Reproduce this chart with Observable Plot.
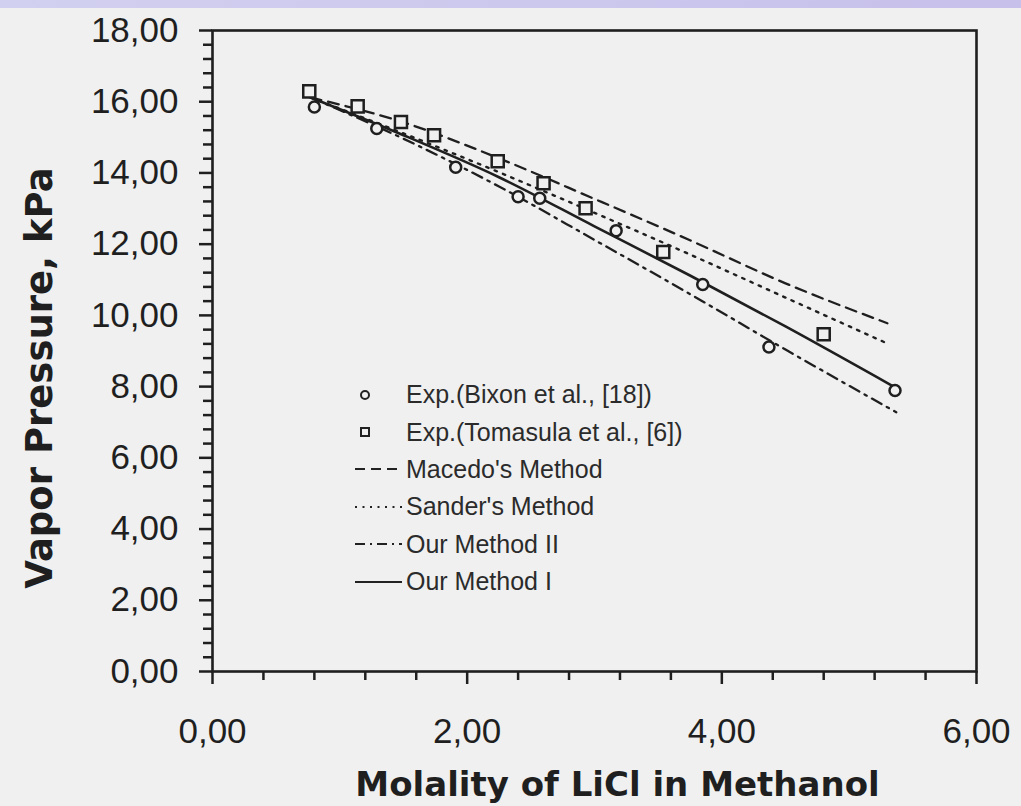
<!DOCTYPE html>
<html><head><meta charset="utf-8">
<script src="https://cdn.jsdelivr.net/npm/d3@7"></script>
<script src="https://cdn.jsdelivr.net/npm/@observablehq/plot@0.6"></script>
<style>
html,body{margin:0;padding:0;background:#f0f0f0;}
#wrap{position:relative;width:1021px;height:806px;overflow:hidden;background:#f0f0f0;}
#chart svg{display:block;}
#band{position:absolute;left:0;top:0;width:1021px;height:8px;background:linear-gradient(to right,#d2d0f0,#c6c0ea);}
#legend{position:absolute;left:340px;top:376px;font-family:"Liberation Sans",Arial,sans-serif;font-size:25px;color:#2b2b2b;}
.row{height:37.4px;display:flex;align-items:center;white-space:nowrap;}
.row svg{width:66px;height:20px;flex:none;}
</style></head><body>
<div id="wrap"><div id="chart"></div><div id="band"></div><div id="legend"></div></div>
<script>
// ---- data ----
const bixonX = [0.80, 1.29, 1.91, 2.40, 2.57, 3.17, 3.85, 4.37, 5.36];
const bixonY = [15.85, 15.25, 14.16, 13.33, 13.29, 12.38, 10.87, 9.11, 7.89];
const tomasulaX = [0.76, 1.14, 1.48, 1.74, 2.24, 2.60, 2.93, 3.54, 4.80];
const tomasulaY = [16.29, 15.87, 15.43, 15.06, 14.33, 13.71, 13.01, 11.78, 9.47];

const macedoX = [0.77, 1.5, 2.25, 3.0, 3.75, 4.5, 5.3];
const macedoY = [16.12, 15.42, 14.41, 13.27, 12.11, 10.90, 9.78];
const sanderX = [0.77, 1.5, 2.25, 3.0, 3.75, 4.5, 5.3];
const sanderY = [16.12, 15.11, 14.02, 12.88, 11.71, 10.50, 9.21];
const our2X = [0.77, 1.5, 2.25, 3.0, 3.75, 4.5, 5.37];
const our2Y = [16.12, 14.96, 13.62, 12.12, 10.60, 9.04, 7.28];
const our1X = [0.77, 1.5, 2.25, 3.0, 3.75, 4.5, 5.35];
const our1Y = [16.12, 15.06, 13.88, 12.50, 11.12, 9.69, 8.00];

const xMajor = [0, 2, 4, 6];
const yMajor = [0, 2, 4, 6, 8, 10, 12, 14, 16, 18];
const xMinor = d3.range(0, 16).filter(i => i % 5).map(i => i * 0.4);
const yMinor = d3.range(0, 46).filter(i => i % 5).map(i => i * 0.4);

const xTitle = "Molality of LiCl in Methanol";
const yTitle = "Vapor Pressure, kPa";
const legendLabels = ["Exp.(Bixon et al., [18])", "Exp.(Tomasula et al., [6])", "Macedo's Method", "Sander's Method", "Our Method II", "Our Method I"];

// ---- build ----
const pts = (xs, ys) => xs.map((x, i) => ({x, y: ys[i]}));
const ink = "#1f1f1f";
const bg = "#f0f0f0";
const fmt = d => d.toFixed(2).replace(".", ",");
const tickFont = "Liberation Sans, Arial, sans-serif";

const chart = Plot.plot({
  width: 1021, height: 806,
  marginLeft: 212, marginRight: 45, marginTop: 30, marginBottom: 135,
  x: {domain: [0, 6]},
  y: {domain: [0, 18]},
  style: {background: "transparent", color: ink, fontFamily: tickFont},
  marks: [
    Plot.axisX({ticks: xMinor, tickSize: 9, strokeWidth: 2.5, tickFormat: () => "", label: null}),
    Plot.axisX({ticks: xMajor, tickSize: 13, strokeWidth: 2.5, tickPadding: 34, tickFormat: fmt, fontSize: 35, label: null, fill: ink}),
    Plot.axisY({ticks: yMinor, tickSize: 9, strokeWidth: 2.5, tickFormat: () => "", label: null}),
    Plot.axisY({ticks: yMajor, tickSize: 13, strokeWidth: 2.5, tickPadding: 21, tickFormat: fmt, fontSize: 35, label: null, fill: ink}),
    Plot.frame({stroke: ink, strokeWidth: 2.6}),
    Plot.line(pts(macedoX, macedoY), {x: "x", y: "y", stroke: ink, strokeWidth: 2.3, strokeDasharray: "11,7", curve: "monotone-x"}),
    Plot.line(pts(sanderX, sanderY), {x: "x", y: "y", stroke: ink, strokeWidth: 2.4, strokeDasharray: "2.5,6.5", curve: "monotone-x"}),
    Plot.line(pts(our2X, our2Y), {x: "x", y: "y", stroke: ink, strokeWidth: 2.3, strokeDasharray: "11,6,2.5,6", curve: "monotone-x"}),
    Plot.line(pts(our1X, our1Y), {x: "x", y: "y", stroke: ink, strokeWidth: 2.6, curve: "monotone-x"}),
    Plot.dot(pts(bixonX, bixonY), {x: "x", y: "y", r: 5.5, stroke: ink, strokeWidth: 2.5, fill: bg}),
    Plot.dot(pts(tomasulaX, tomasulaY), {x: "x", y: "y", symbol: "square", r: 6.8, stroke: ink, strokeWidth: 2.5, fill: bg}),
    Plot.text([xTitle], {frameAnchor: "bottom", dx: 23, dy: 124, fontSize: 34, fontWeight: "bold", fontFamily: "DejaVu Sans, sans-serif", fill: ink}),
    Plot.text([yTitle], {frameAnchor: "left", textAnchor: "middle", rotate: -90, dx: -172, dy: 27, fontSize: 37, fontWeight: "bold", fontFamily: "DejaVu Sans, sans-serif", fill: ink, letterSpacing: "1.5px"})
  ]
});
document.getElementById("chart").appendChild(chart);

// ---- legend ----
const samples = [
  '<circle cx="25" cy="10" r="4" fill="none" stroke="#222" stroke-width="2"/>',
  '<rect x="21" y="6" width="8" height="8" fill="none" stroke="#222" stroke-width="2"/>',
  '<line x1="15" y1="10" x2="62" y2="10" stroke="#222" stroke-width="2" stroke-dasharray="10,6"/>',
  '<line x1="15" y1="10" x2="62" y2="10" stroke="#222" stroke-width="2.2" stroke-dasharray="2,5.5"/>',
  '<line x1="15" y1="10" x2="62" y2="10" stroke="#222" stroke-width="2" stroke-dasharray="10,5,2,5"/>',
  '<line x1="15" y1="10" x2="62" y2="10" stroke="#222" stroke-width="2.2"/>'
];
const leg = document.getElementById("legend");
legendLabels.forEach((t, i) => {
  const row = document.createElement("div");
  row.className = "row";
  row.innerHTML = '<svg viewBox="0 0 66 20">' + samples[i] + '</svg>';
  const span = document.createElement("span");
  span.textContent = t;
  row.appendChild(span);
  leg.appendChild(row);
});
</script>
</body></html>
